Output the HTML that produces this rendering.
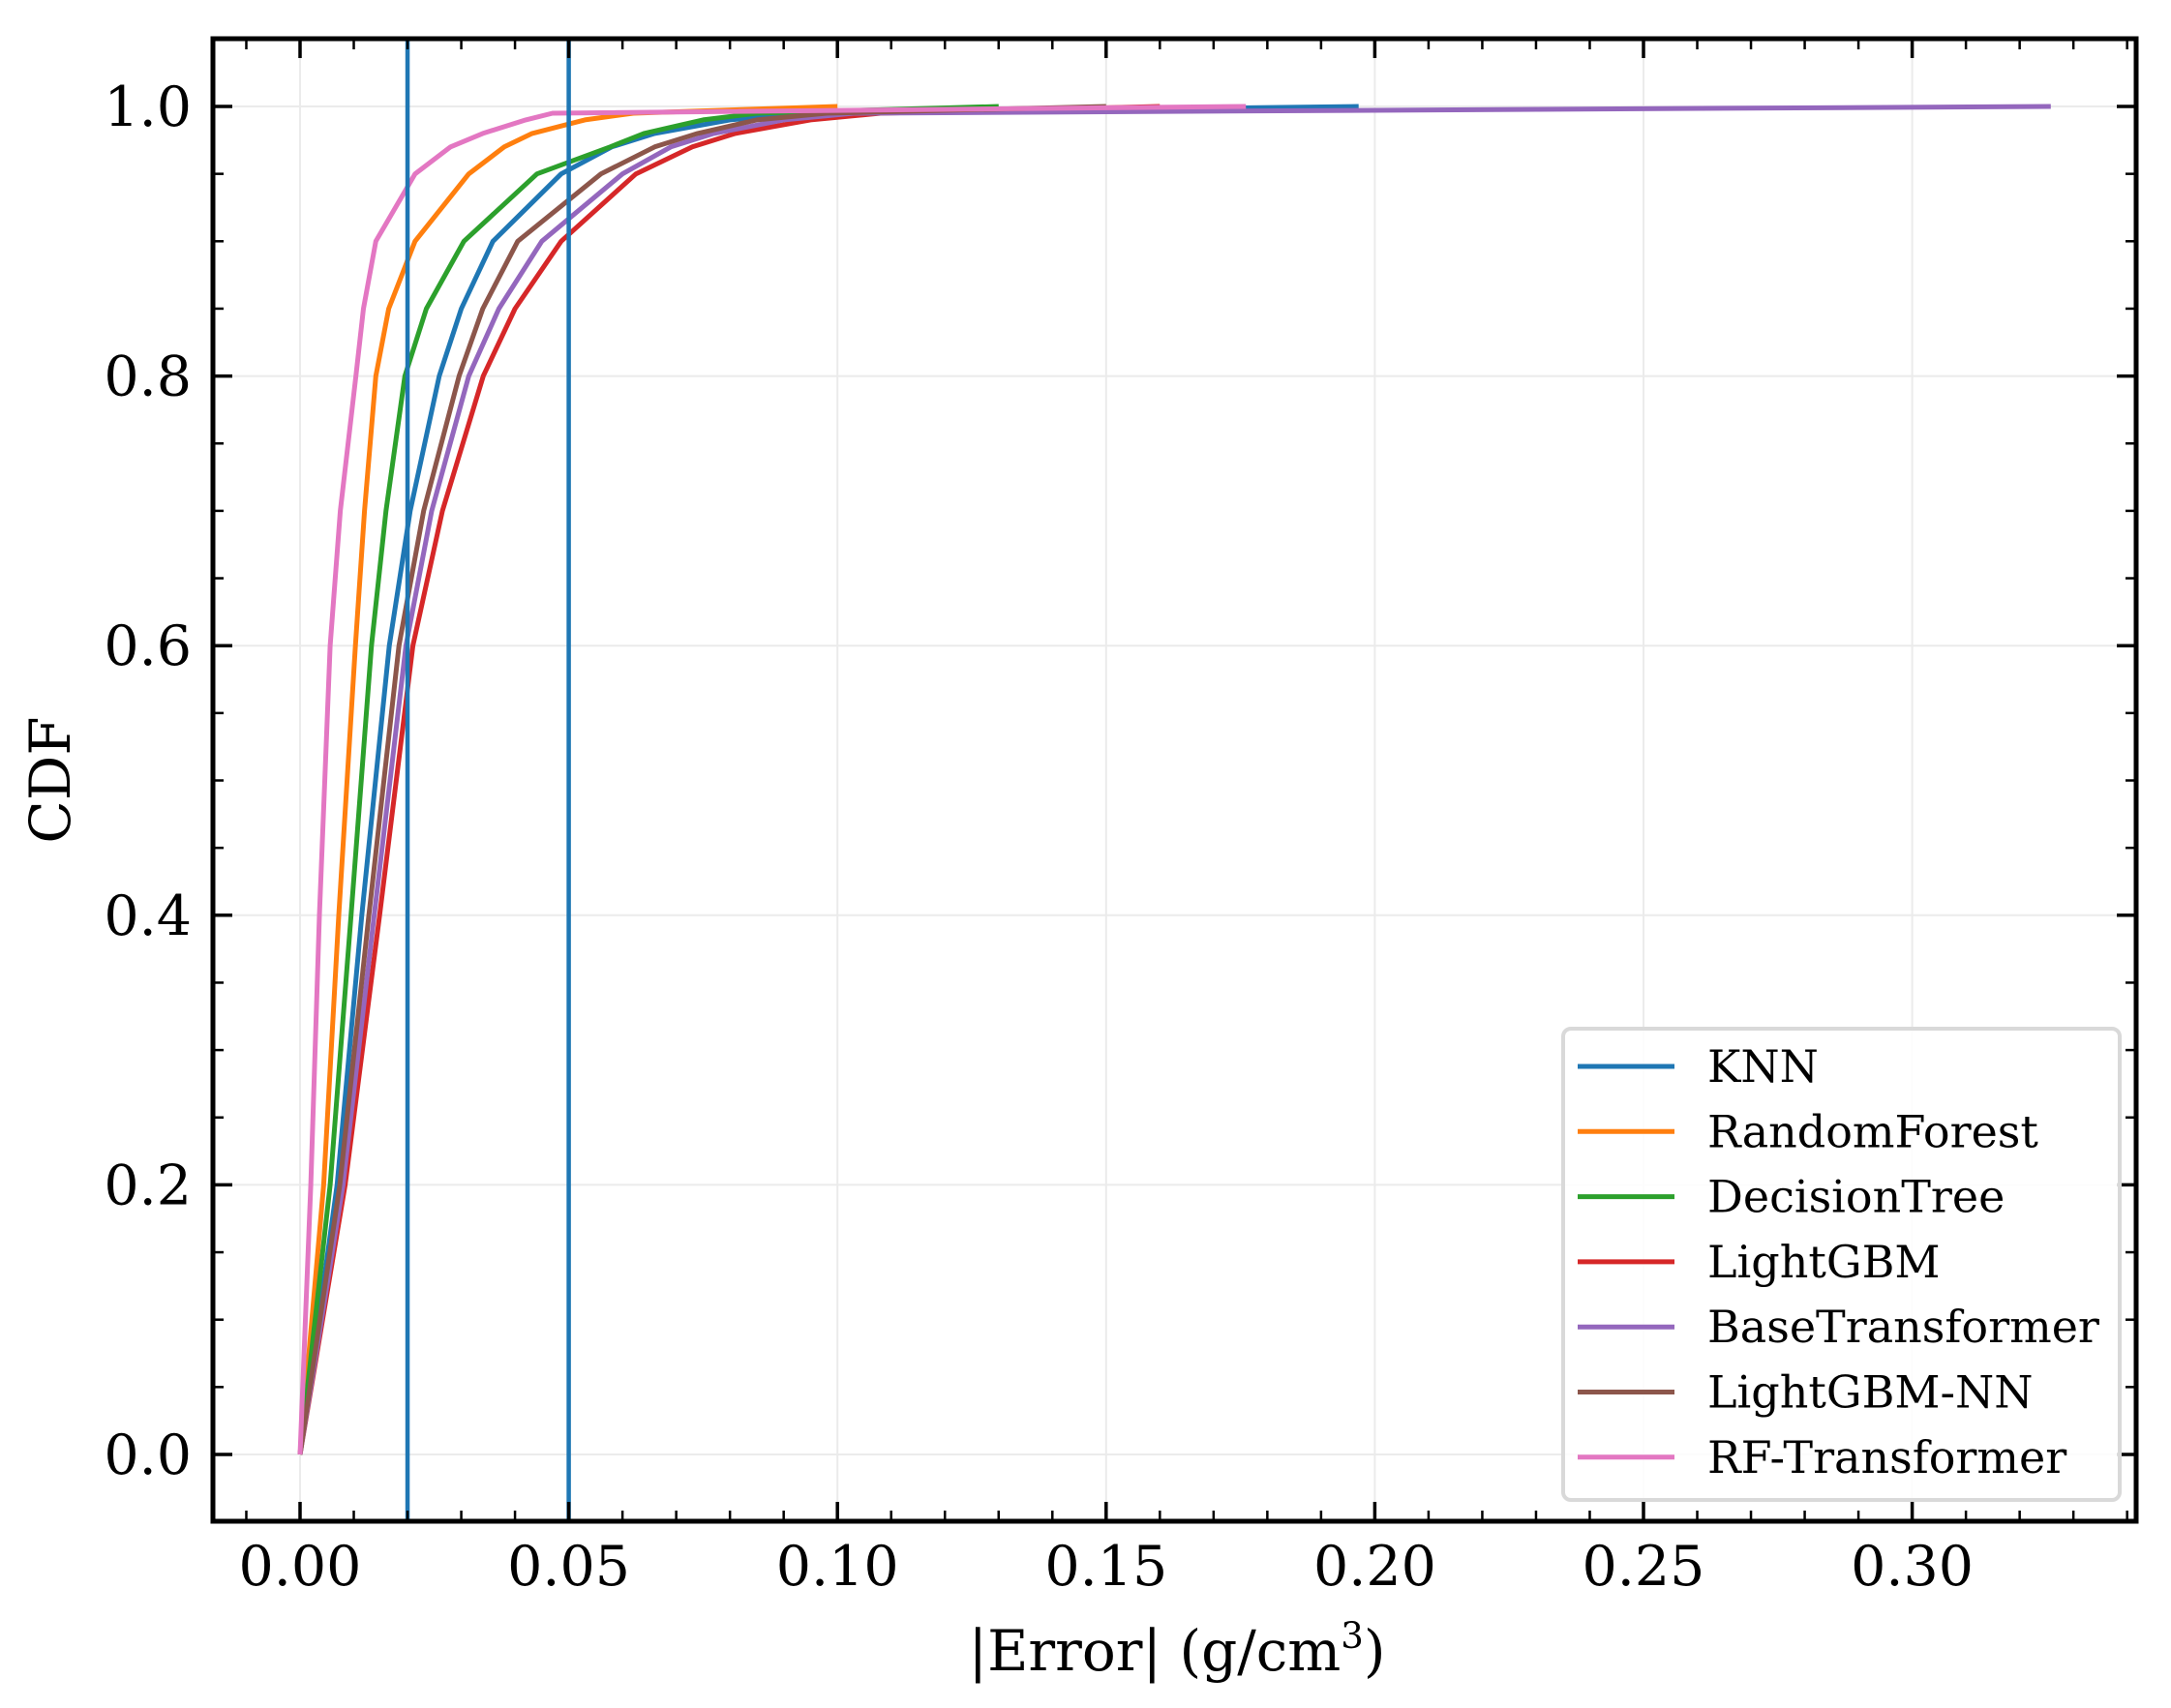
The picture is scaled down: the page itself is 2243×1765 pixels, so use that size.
<!DOCTYPE html>
<html><head><meta charset="utf-8"><style>
html,body{margin:0;padding:0;background:#fff;}
svg{display:block;font-family:"DejaVu Serif","Liberation Serif",serif;}
</style></head><body>
<svg id="chart" width="2243" height="1765" viewBox="0 0 2243 1765" xmlns="http://www.w3.org/2000/svg">
<g id="grid"></g>
<g id="series"></g>
<g id="vlines"></g>
<g id="ticks"></g>
<rect x="220" y="40" width="1987" height="1532" fill="none" stroke="#000" stroke-width="5"/>
<g id="legend"></g>
<text x="0" y="0" transform="translate(72,806) rotate(-90)" font-size="58" text-anchor="middle">CDF</text>
<text x="1216" y="1726" font-size="58" text-anchor="middle">|Error| (g/cm<tspan font-size="37" dy="-23">3</tspan><tspan dy="23">)</tspan></text>
</svg>
<script>
const levels = [0, 0.2, 0.4, 0.6, 0.7, 0.8, 0.85, 0.9, 0.95, 0.97, 0.98, 0.99, 0.995, 1.0];
const seriesNames = ["KNN","RandomForest","DecisionTree","LightGBM","BaseTransformer","LightGBM-NN","RF-Transformer"];
const seriesColors = ["#1f77b4","#ff7f0e","#2ca02c","#d62728","#9467bd","#8c564b","#e377c2"];
const knnX   = [0, 0.0069, 0.0115, 0.0166, 0.0205, 0.0259, 0.0300, 0.0359, 0.0486, 0.058, 0.066, 0.080, 0.095, 0.197];
const rfX    = [0, 0.0044, 0.0072, 0.0103, 0.0120, 0.0141, 0.0165, 0.0214, 0.0314, 0.038, 0.0432, 0.053, 0.062, 0.100];
const dtX    = [0, 0.0056, 0.0095, 0.0133, 0.0160, 0.0195, 0.0235, 0.0305, 0.0441, 0.0577, 0.064, 0.075, 0.085, 0.130];
const lgbX   = [0, 0.0084, 0.0148, 0.0210, 0.0265, 0.0341, 0.0400, 0.0486, 0.0625, 0.073, 0.081, 0.095, 0.108, 0.160];
const btX    = [0, 0.0080, 0.0138, 0.0197, 0.0245, 0.0314, 0.0370, 0.0450, 0.0600, 0.069, 0.077, 0.090, 0.103, 0.3258];
const lgbnnX = [0, 0.0074, 0.0128, 0.0184, 0.0230, 0.0296, 0.0340, 0.0405, 0.0560, 0.066, 0.074, 0.085, 0.098, 0.150];
const rftX   = [0, 0.0020, 0.0036, 0.0056, 0.0075, 0.0104, 0.0118, 0.0141, 0.0214, 0.028, 0.034, 0.042, 0.047, 0.176];
const seriesX = [knnX, rfX, dtX, lgbX, btX, lgbnnX, rftX];
const xTicks = [0, 0.05, 0.10, 0.15, 0.20, 0.25, 0.30];
const xTickLabels = ["0.00","0.05","0.10","0.15","0.20","0.25","0.30"];
const yTicks = [0, 0.2, 0.4, 0.6, 0.8, 1.0];
const yTickLabels = ["0.0","0.2","0.4","0.6","0.8","1.0"];
const thresholds = [0.02, 0.05];

const NS = "http://www.w3.org/2000/svg";
const L=220, R=2207, T=40, B=1572;
const xs = v => 310 + v*5552;
const ys = v => 1503 - v*1393;
function mk(tag, attrs, parent){const e=document.createElementNS(NS,tag);for(const k in attrs)e.setAttribute(k,attrs[k]);parent.appendChild(e);return e;}
const grid=document.getElementById('grid'), ticks=document.getElementById('ticks');
xTicks.forEach((t,i)=>{
  const x=xs(t);
  const g=mk('line',{x1:x,x2:x,y1:T,y2:B,stroke:'#ebebeb','stroke-width':2},grid);
   
  const a=mk('line',{x1:x,x2:x,y1:B,y2:B-20,stroke:'#000','stroke-width':3.5},ticks);
   
  const b=mk('line',{x1:x,x2:x,y1:T,y2:T+20,stroke:'#000','stroke-width':3.5},ticks);
   
  const tx=mk('text',{x:x,y:1638,'font-size':57,'text-anchor':'middle'},ticks);
  tx.textContent=xTickLabels[i];
   
});
for(let k=-1;k<=34;k++){
  const x=xs(k*0.01); if(x<L+2||x>R-2) continue;
  const a=mk('line',{x1:x,x2:x,y1:B,y2:B-11,stroke:'#000','stroke-width':2.5},ticks);
   
  const b=mk('line',{x1:x,x2:x,y1:T,y2:T+11,stroke:'#000','stroke-width':2.5},ticks);
   
}
yTicks.forEach((t,i)=>{
  const y=ys(t);
  const g=mk('line',{x1:L,x2:R,y1:y,y2:y,stroke:'#ebebeb','stroke-width':2},grid);
   
  const a=mk('line',{x1:L,x2:L+20,y1:y,y2:y,stroke:'#000','stroke-width':3.5},ticks);
   
  const b=mk('line',{x1:R,x2:R-20,y1:y,y2:y,stroke:'#000','stroke-width':3.5},ticks);
   
  const tx=mk('text',{x:198,y:y+20,'font-size':57,'text-anchor':'end'},ticks);
  tx.textContent=yTickLabels[i];
   
});
for(let k=-1;k<=21;k++){
  const y=ys(k*0.05); if(y<T+2||y>B-2) continue;
  const a=mk('line',{x1:L,x2:L+11,y1:y,y2:y,stroke:'#000','stroke-width':2.5},ticks);
   
  const b=mk('line',{x1:R,x2:R-11,y1:y,y2:y,stroke:'#000','stroke-width':2.5},ticks);
   
}
const sg=document.getElementById('series');
seriesX.forEach((arr,si)=>{
  const pts=arr.map((v,j)=>xs(v).toFixed(1)+','+ys(levels[j]).toFixed(1)).join(' ');
  const p=mk('polyline',{points:pts,fill:'none',stroke:seriesColors[si],'stroke-width':5,'stroke-linejoin':'round'},sg);
  
  
});
const vg=document.getElementById('vlines');
thresholds.forEach(t=>{
  const l=mk('line',{x1:xs(t),x2:xs(t),y1:T,y2:B,stroke:'#1f77b4','stroke-width':4.5},vg);
  
  
});
const lg=document.getElementById('legend');
const box=mk('rect',{x:1615,y:1063,width:575,height:487,rx:8,fill:'#fff','fill-opacity':0.85,stroke:'#d9d9d9','stroke-width':4},lg);
 
seriesNames.forEach((n,i)=>{
  const y=1102+i*67.3;
  const l=mk('line',{x1:1630,x2:1730,y1:y,y2:y,stroke:seriesColors[i],'stroke-width':5},lg);
   
  const t=mk('text',{x:1764,y:y+16,'font-size':46},lg);
  t.textContent=n;
   
});
</script>
</body></html>
